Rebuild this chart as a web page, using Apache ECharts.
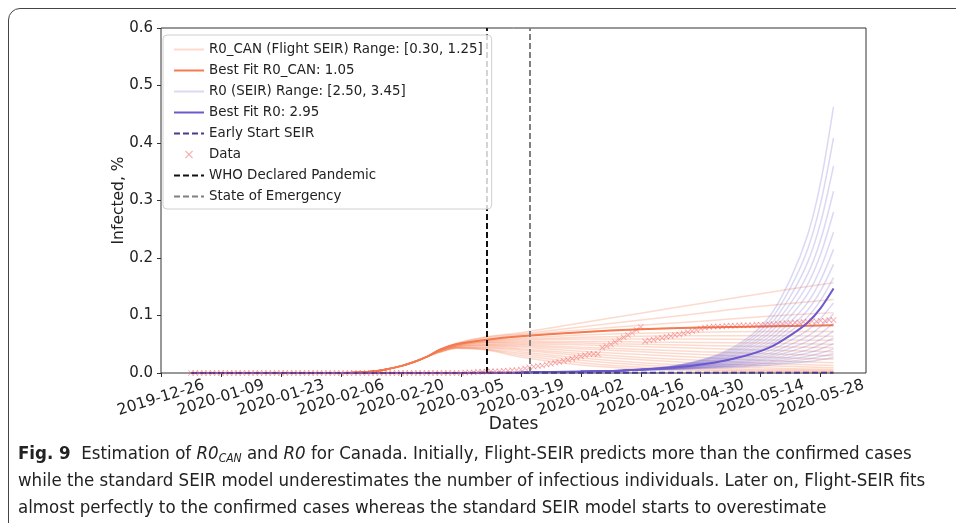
<!DOCTYPE html>
<html>
<head>
<meta charset="utf-8">
<script src="https://cdn.jsdelivr.net/npm/echarts@6/dist/echarts.min.js"></script>
<style>
html, body { margin: 0; padding: 0; background: #fff; overflow: hidden; }
#frame {
  position: absolute; left: 8px; top: 8px; width: 990px; height: 560px;
  border: 1px solid #444; border-top-left-radius: 12px; box-sizing: border-box;
}
#chart { position: absolute; left: 0; top: 0; width: 956px; height: 523px; }
#caption {
  position: absolute; left: 18px; top: 439px;
  font-family: "Liberation Sans Narrow", "DejaVu Sans Condensed", sans-serif;
  font-size: 18.5px; line-height: 27px; color: #222; white-space: nowrap;
}
#caption sub { font-size: 12px; vertical-align: -3px; line-height: 0; }
</style>
</head>
<body>
<div id="frame"></div>
<div id="chart"></div>
<div id="caption">
  <b>Fig. 9</b>&nbsp; Estimation of <i>R0</i><sub><i>CAN</i></sub> and <i>R0</i> for Canada. Initially, Flight-SEIR predicts more than the confirmed cases<br>
  while the standard SEIR model underestimates the number of infectious individuals. Later on, Flight-SEIR fits<br>
  almost perfectly to the confirmed cases whereas the standard SEIR model starts to overestimate
</div>
<script>
// x axis ticks (every 14 days)
const xTickLabels = ["2019-12-26", "2020-01-09", "2020-01-23", "2020-02-06", "2020-02-20", "2020-03-05",
  "2020-03-19", "2020-04-02", "2020-04-16", "2020-04-30", "2020-05-14", "2020-05-28"];
const xMin = "2019-12-26";
const xMax = "2020-06-07T14:00:00";

// vertical markers
const whoDate = "2020-03-11";
const emergencyDate = "2020-03-21";

// Flight-SEIR: shared start of all curves
const canPrefixDates = ["2020-01-02", "2020-02-03", "2020-02-10", "2020-02-14", "2020-02-17", "2020-02-20", "2020-02-23", "2020-02-26"];
const canPrefix = [0, 0, 0.001, 0.003, 0.007, 0.012, 0.019, 0.028];
// after divergence
const canDates = ["2020-02-29", "2020-03-04", "2020-03-11", "2020-03-19", "2020-04-02", "2020-04-16", "2020-04-30", "2020-05-14", "2020-05-31"];
const canBest = [0.040, 0.050, 0.058, 0.064, 0.071, 0.076, 0.079, 0.081, 0.083];
const canRange = [
  [0.041, 0.052, 0.063, 0.070, 0.087, 0.104, 0.121, 0.138, 0.157], // 1.20
  [0.041, 0.051, 0.062, 0.068, 0.080, 0.092, 0.104, 0.116, 0.128], // 1.15
  [0.040, 0.051, 0.060, 0.066, 0.075, 0.083, 0.090, 0.098, 0.105], // 1.10
  [0.040, 0.050, 0.058, 0.064, 0.071, 0.076, 0.079, 0.081, 0.083], // 1.05
  [0.040, 0.050, 0.057, 0.061, 0.066, 0.069, 0.071, 0.072, 0.072],
  [0.040, 0.049, 0.056, 0.059, 0.062, 0.064, 0.065, 0.065, 0.064],
  [0.040, 0.049, 0.055, 0.057, 0.059, 0.059, 0.059, 0.058, 0.057],
  [0.039, 0.048, 0.054, 0.055, 0.055, 0.054, 0.053, 0.052, 0.050],
  [0.039, 0.048, 0.053, 0.053, 0.052, 0.050, 0.048, 0.046, 0.044],
  [0.039, 0.047, 0.052, 0.051, 0.049, 0.046, 0.043, 0.040, 0.037],
  [0.039, 0.047, 0.050, 0.049, 0.045, 0.041, 0.037, 0.034, 0.030],
  [0.038, 0.046, 0.049, 0.047, 0.042, 0.037, 0.032, 0.028, 0.024],
  [0.038, 0.046, 0.048, 0.045, 0.038, 0.032, 0.027, 0.022, 0.018],
  [0.038, 0.045, 0.047, 0.042, 0.034, 0.027, 0.022, 0.017, 0.013],
  [0.037, 0.045, 0.045, 0.040, 0.030, 0.023, 0.017, 0.013, 0.009],
  [0.037, 0.044, 0.044, 0.037, 0.026, 0.018, 0.013, 0.009, 0.006],
  [0.037, 0.044, 0.042, 0.034, 0.022, 0.014, 0.009, 0.006, 0.004],
  [0.036, 0.043, 0.041, 0.031, 0.018, 0.010, 0.006, 0.004, 0.002],
  [0.036, 0.043, 0.040, 0.028, 0.014, 0.007, 0.004, 0.002, 0.001] // 0.30
];

// SEIR: shared start, then fan
const seirHeadDates = ["2020-01-02", "2020-03-05", "2020-03-19", "2020-04-02", "2020-04-12"];
const seirHead = [0, 0.0002, 0.0008, 0.0025, 0.0045];
const seirDates = ["2020-04-23", "2020-05-03", "2020-05-10", "2020-05-16", "2020-05-21", "2020-05-25", "2020-05-28", "2020-05-31"];
const seirBest = [0.009, 0.018, 0.029, 0.044, 0.066, 0.088, 0.113, 0.147];
const seirRange = [
  [0.0062, 0.0087, 0.0110, 0.0136, 0.0172, 0.0199, 0.0231, 0.027],
  [0.0065, 0.0096, 0.0126, 0.0159, 0.0206, 0.0244, 0.0286, 0.034],
  [0.0068, 0.0105, 0.0142, 0.0184, 0.0244, 0.0293, 0.0348, 0.042],
  [0.0071, 0.0114, 0.0159, 0.0211, 0.0284, 0.0348, 0.0418, 0.051],
  [0.0074, 0.0123, 0.0175, 0.0239, 0.0328, 0.0407, 0.0495, 0.061],
  [0.0077, 0.0133, 0.0194, 0.0271, 0.0378, 0.0476, 0.0585, 0.073],
  [0.0080, 0.0144, 0.0215, 0.0306, 0.0434, 0.0555, 0.0690, 0.087],
  [0.0083, 0.0154, 0.0237, 0.0344, 0.0497, 0.0643, 0.0809, 0.103],
  [0.0086, 0.0166, 0.0261, 0.0387, 0.0569, 0.0747, 0.0949, 0.122],
  [0.009, 0.018, 0.029, 0.044, 0.066, 0.088, 0.113, 0.147],
  [0.0092, 0.0190, 0.0311, 0.0479, 0.0727, 0.0979, 0.1268, 0.166],
  [0.0095, 0.0201, 0.0335, 0.0524, 0.0806, 0.1096, 0.1431, 0.189],
  [0.0098, 0.0212, 0.0360, 0.0573, 0.0893, 0.1229, 0.1615, 0.215],
  [0.0101, 0.0224, 0.0388, 0.0627, 0.0991, 0.1379, 0.1826, 0.245],
  [0.0104, 0.0237, 0.0419, 0.0688, 0.1102, 0.1548, 0.2069, 0.280],
  [0.0107, 0.0250, 0.0449, 0.0748, 0.1214, 0.1723, 0.2317, 0.316],
  [0.0110, 0.0264, 0.0484, 0.0820, 0.1346, 0.1933, 0.2620, 0.360],
  [0.0113, 0.0279, 0.0520, 0.0895, 0.1490, 0.2160, 0.2954, 0.409],
  [0.0116, 0.0294, 0.0558, 0.0975, 0.1645, 0.2409, 0.3318, 0.463]
];

const earlyDates = ["2020-01-02", "2020-05-31"];
const earlyValues = [0, 0.0005];

// confirmed cases, daily from 2020-01-02
const dataStart = "2020-01-02";
const dataJanFeb = [0, 0, 0, 0, 0, 0, 0, 0, 0, 0, 0, 0, 0, 0, 0, 0, 0, 0, 0, 0, 0, 0, 0, 0, 0, 0, 0, 0, 0, 0,
  0, 0, 0, 0, 0, 0, 0, 0, 0, 0, 0, 0, 0, 0, 0, 0, 0, 0, 0, 0, 0, 0, 0, 0, 0, 0, 0, 0, 0];
const dataMar = [0, 0, 0, 0, 0, 0.001, 0.001, 0.001, 0.002, 0.002, 0.002, 0.003, 0.003, 0.003, 0.004, 0.004,
  0.005, 0.005, 0.006, 0.008, 0.010, 0.011, 0.012, 0.013, 0.015, 0.016, 0.018, 0.019, 0.021, 0.023, 0.025];
const dataApr = [0.027, 0.029, 0.031, 0.033, 0.033, 0.033, 0.044, 0.047, 0.050, 0.054, 0.058, 0.062, 0.066,
  0.070, 0.075, 0.080, 0.055, 0.057, 0.058, 0.060, 0.061, 0.063, 0.064, 0.066, 0.067, 0.069, 0.071, 0.073,
  0.075, 0.077];
const dataMay = [0.079, 0.080, 0.081, 0.081, 0.081, 0.082, 0.082, 0.082, 0.083, 0.083, 0.083, 0.083, 0.084,
  0.084, 0.084, 0.085, 0.085, 0.086, 0.086, 0.087, 0.087, 0.088, 0.088, 0.089, 0.089, 0.090, 0.090, 0.091,
  0.091, 0.092, 0.092];

function ts(s) {
  return new Date(s.length === 10 ? s + "T00:00:00Z" : s + "Z").getTime();
}
function pad(n) { return n < 10 ? "0" + n : "" + n; }
function fmt(v) {
  const d = new Date(v);
  return d.getUTCFullYear() + "-" + pad(d.getUTCMonth() + 1) + "-" + pad(d.getUTCDate());
}
function pairs(dates, vals) {
  return dates.map((d, i) => [ts(d), vals[i]]);
}

const DAY = 86400000;
const dataValues = dataJanFeb.concat(dataMar, dataApr, dataMay);
const dataPoints = dataValues.map((v, i) => [ts(dataStart) + i * DAY, v]);

const ORANGE = "#f47a4f";
const BLUE = "#6a5acd";
const CAN_RANGE = "R0_CAN (Flight SEIR) Range: [0.30, 1.25]";
const CAN_BEST = "Best Fit R0_CAN: 1.05";
const SEIR_RANGE = "R0 (SEIR) Range: [2.50, 3.45]";
const SEIR_BEST = "Best Fit R0: 2.95";
const EARLY = "Early Start SEIR";
const DATA = "Data";
const WHO = "WHO Declared Pandemic";
const SOE = "State of Emergency";

const crossPath = "path://M0,1L1,0L5,4L9,0L10,1L6,5L10,9L9,10L5,6L1,10L0,9L4,5Z";

const series = [];
canRange.forEach(vals => {
  series.push({
    name: CAN_RANGE, type: "line", symbol: "none", smooth: 0.3, z: 1,
    lineStyle: { color: "rgba(244,122,79,0.28)", width: 1.5 },
    itemStyle: { color: "rgba(244,122,79,0.28)" },
    data: pairs(canPrefixDates, canPrefix).concat(pairs(canDates, vals))
  });
});
series.push({
  name: CAN_BEST, type: "line", symbol: "none", smooth: 0.3, z: 2,
  lineStyle: { color: ORANGE, width: 2 }, itemStyle: { color: ORANGE },
  data: pairs(canPrefixDates, canPrefix).concat(pairs(canDates, canBest))
});
seirRange.forEach(vals => {
  series.push({
    name: SEIR_RANGE, type: "line", symbol: "none", smooth: 0.3, z: 3,
    lineStyle: { color: "rgba(106,90,205,0.24)", width: 1.5 },
    itemStyle: { color: "rgba(106,90,205,0.24)" },
    data: pairs(seirHeadDates, seirHead).concat(pairs(seirDates, vals))
  });
});
series.push({
  name: SEIR_BEST, type: "line", symbol: "none", smooth: 0.3, z: 4,
  lineStyle: { color: BLUE, width: 2 }, itemStyle: { color: BLUE },
  data: pairs(seirHeadDates, seirHead).concat(pairs(seirDates, seirBest))
});
series.push({
  name: EARLY, type: "line", symbol: "none", z: 4,
  lineStyle: { color: "#483d8b", width: 2, type: [6, 3] }, itemStyle: { color: "#483d8b" },
  data: pairs(earlyDates, earlyValues)
});
series.push({
  name: DATA, type: "scatter", symbol: crossPath, symbolSize: 6, z: 5,
  itemStyle: { color: "rgba(238,80,80,0.6)" },
  data: dataPoints
});
series.push({
  name: WHO, type: "line", symbol: "none", z: 6, data: [],
  lineStyle: { color: "#111", width: 2, type: [6, 3] }, itemStyle: { color: "#111" },
  markLine: {
    symbol: "none", silent: true, animation: false, label: { show: false },
    lineStyle: { color: "#111", width: 2, type: [6, 3] },
    data: [{ xAxis: ts(whoDate) }]
  }
});
series.push({
  name: SOE, type: "line", symbol: "none", z: 6, data: [],
  lineStyle: { color: "#808080", width: 2, type: [6, 3] }, itemStyle: { color: "#808080" },
  markLine: {
    symbol: "none", silent: true, animation: false, label: { show: false },
    lineStyle: { color: "#808080", width: 2, type: [6, 3] },
    data: [{ xAxis: ts(emergencyDate) }]
  }
});

// legend entries: line items without the marker dot
const noDot = { opacity: 0 };
const legendData = [CAN_RANGE, CAN_BEST, SEIR_RANGE, SEIR_BEST, EARLY, DATA, WHO, SOE].map(n =>
  n === DATA ? { name: n } : { name: n, itemStyle: noDot });

const chart = echarts.init(document.getElementById("chart"));
chart.setOption({
  animation: false,
  textStyle: { fontFamily: "DejaVu Sans" },
  grid: { left: 161, right: 90, top: 28, bottom: 150, show: true, borderColor: "#333", borderWidth: 1 },
  legend: {
    orient: "vertical", left: 163, top: 35, z: 20,
    data: legendData,
    itemWidth: 30, itemHeight: 8, itemGap: 8,
    padding: [8, 9, 6, 10],
    backgroundColor: "rgba(255,255,255,0.82)", borderColor: "#d0d0d0", borderWidth: 1, borderRadius: 4,
    textStyle: { fontFamily: "DejaVu Sans", fontSize: 13.4, color: "#222" }
  },
  xAxis: {
    type: "value", min: ts(xMin), max: ts(xMax),
    name: "Dates", nameLocation: "middle", nameGap: 43, nameMoveOverlap: false,
    nameTextStyle: { fontFamily: "DejaVu Sans", fontSize: 17, color: "#222" },
    axisLine: { show: false },
    axisTick: { show: true, length: 4, lineStyle: { color: "#333" }, customValues: xTickLabels.map(ts) },
    axisLabel: {
      customValues: xTickLabels.map(ts), formatter: v => fmt(v),
      rotate: 17, align: "center", verticalAlign: "middle", margin: 25,
      fontFamily: "DejaVu Sans", fontSize: 15.5, color: "#222"
    },
    splitLine: { show: false }
  },
  yAxis: {
    type: "value", min: 0, max: 0.6, interval: 0.1,
    name: "Infected, %", nameLocation: "middle", nameGap: 34, nameMoveOverlap: false,
    nameTextStyle: { fontFamily: "DejaVu Sans", fontSize: 15.5, color: "#222" },
    axisLine: { show: false },
    axisTick: { show: true, length: 4, lineStyle: { color: "#333" } },
    axisLabel: { formatter: v => v.toFixed(1), fontFamily: "DejaVu Sans", fontSize: 15, color: "#222", margin: 8 },
    splitLine: { show: false }
  },
  series: series
});
</script>
</body>
</html>
